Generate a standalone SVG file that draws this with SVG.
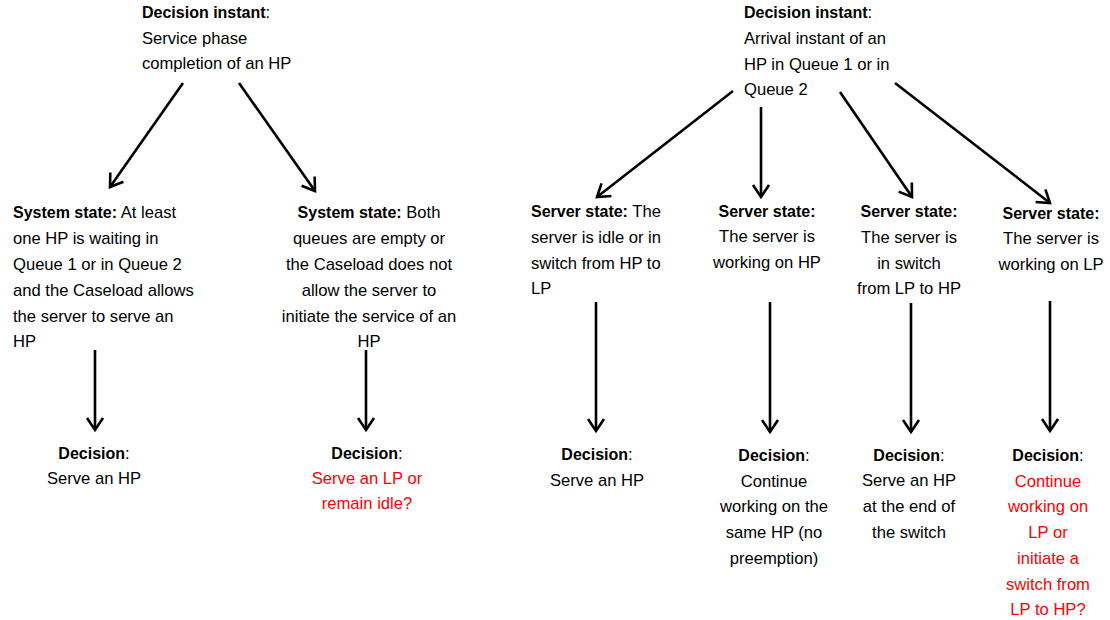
<svg xmlns="http://www.w3.org/2000/svg" width="1110" height="620" viewBox="0 0 1110 620">
<defs>
<marker id="arr" markerUnits="userSpaceOnUse" markerWidth="30" markerHeight="30" refX="0" refY="0" viewBox="-15 -15 30 30" orient="auto" overflow="visible">
<path d="M-12,-8 L0,0 L-12,8" fill="none" stroke="#000" stroke-width="2.6" stroke-linejoin="miter"/>
</marker>
<style>
text{font-family:"Liberation Sans",Arial,sans-serif;font-size:16.6px;fill:#000}
.b{font-weight:bold;font-size:16px}
.r{fill:#ff0000}
.c{text-anchor:middle}
.e{stroke:#000;stroke-width:2.6;fill:none;marker-end:url(#arr)}
</style>
</defs>
<rect width="1110" height="620" fill="#fff"/>
<g id="top-left">
<text x="142" y="18"><tspan class="b">Decision instant</tspan>:</text>
<text x="142" y="44">Service phase</text>
<text x="142" y="69">completion of an HP</text>
</g>
<g id="top-right">
<text x="744" y="18"><tspan class="b">Decision instant</tspan>:</text>
<text x="744" y="44">Arrival instant of an</text>
<text x="744" y="70">HP in Queue 1 or in</text>
<text x="744" y="95">Queue 2</text>
</g>
<g id="sys1">
<text x="13" y="218"><tspan class="b">System state:</tspan> At least</text>
<text x="13" y="244">one HP is waiting in</text>
<text x="13" y="270">Queue 1 or in Queue 2</text>
<text x="13" y="296">and the Caseload allows</text>
<text x="13" y="322">the server to serve an</text>
<text x="13" y="347">HP</text>
</g>
<g id="sys2">
<text class="c" x="369" y="218"><tspan class="b">System state:</tspan> Both</text>
<text class="c" x="369" y="244">queues are empty or</text>
<text class="c" x="369" y="270">the Caseload does not</text>
<text class="c" x="369" y="296">allow the server to</text>
<text class="c" x="369" y="322">initiate the service of an</text>
<text class="c" x="369" y="347">HP</text>
</g>
<g id="srv1">
<text x="531" y="217"><tspan class="b">Server state:</tspan> The</text>
<text x="531" y="243">server is idle or in</text>
<text x="531" y="269">switch from HP to</text>
<text x="531" y="294">LP</text>
</g>
<g id="srv2">
<text class="c" x="767" y="217"><tspan class="b">Server state:</tspan></text>
<text class="c" x="767" y="242">The server is</text>
<text class="c" x="767" y="268">working on HP</text>
</g>
<g id="srv3">
<text class="c" x="909" y="217"><tspan class="b">Server state:</tspan></text>
<text class="c" x="909" y="243">The server is</text>
<text class="c" x="909" y="269">in switch</text>
<text class="c" x="909" y="294">from LP to HP</text>
</g>
<g id="srv4">
<text class="c" x="1051" y="219"><tspan class="b">Server state:</tspan></text>
<text class="c" x="1051" y="244">The server is</text>
<text class="c" x="1051" y="270">working on LP</text>
</g>
<g id="dec1">
<text class="c" x="94" y="459"><tspan class="b">Decision</tspan>:</text>
<text class="c" x="94" y="484">Serve an HP</text>
</g>
<g id="dec2">
<text class="c" x="367" y="459"><tspan class="b">Decision</tspan>:</text>
<text class="c r" x="367" y="484">Serve an LP or</text>
<text class="c r" x="367" y="509">remain idle?</text>
</g>
<g id="dec3">
<text class="c" x="597" y="460"><tspan class="b">Decision</tspan>:</text>
<text class="c" x="597" y="486">Serve an HP</text>
</g>
<g id="dec4">
<text class="c" x="774" y="461"><tspan class="b">Decision</tspan>:</text>
<text class="c" x="774" y="487">Continue</text>
<text class="c" x="774" y="512">working on the</text>
<text class="c" x="774" y="538">same HP (no</text>
<text class="c" x="774" y="564">preemption)</text>
</g>
<g id="dec5">
<text class="c" x="909" y="461"><tspan class="b">Decision</tspan>:</text>
<text class="c" x="909" y="486">Serve an HP</text>
<text class="c" x="909" y="512">at the end of</text>
<text class="c" x="909" y="538">the switch</text>
</g>
<g id="dec6">
<text class="c" x="1048" y="461"><tspan class="b">Decision</tspan>:</text>
<text class="c r" x="1048" y="487">Continue</text>
<text class="c r" x="1048" y="512">working on</text>
<text class="c r" x="1048" y="538">LP or</text>
<text class="c r" x="1048" y="564">initiate a</text>
<text class="c r" x="1048" y="590">switch from</text>
<text class="c r" x="1048" y="615">LP to HP?</text>
</g>
<g id="connectors">
<line class="e" x1="183" y1="83" x2="110" y2="187"/>
<line class="e" x1="239" y1="83" x2="315" y2="191"/>
<line class="e" x1="733" y1="91" x2="597" y2="197"/>
<line class="e" x1="761" y1="107" x2="761" y2="197"/>
<line class="e" x1="840" y1="92" x2="912" y2="197"/>
<line class="e" x1="895" y1="83" x2="1050" y2="203"/>
<line class="e" x1="95" y1="350" x2="95" y2="430"/>
<line class="e" x1="366" y1="350" x2="366" y2="430"/>
<line class="e" x1="596" y1="302" x2="596" y2="431"/>
<line class="e" x1="770" y1="302" x2="770" y2="432"/>
<line class="e" x1="911" y1="303" x2="911" y2="432"/>
<line class="e" x1="1050" y1="301" x2="1050" y2="431"/>
</g>
</svg>
